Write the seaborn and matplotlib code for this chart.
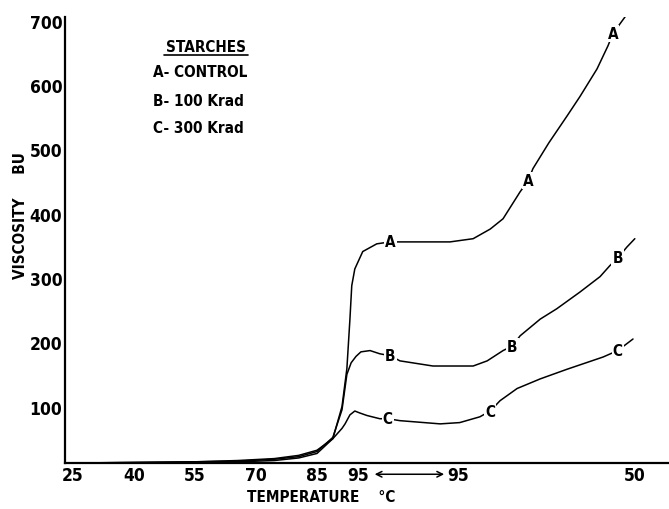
import numpy as np
import pandas as pd
import matplotlib
matplotlib.use("Agg")
import matplotlib.pyplot as plt
import seaborn as sns

# x is elapsed time (min) of the amylograph run; tick labels give the temperature
tick_pos = [0, 10, 20, 30, 40, 46.7, 63.1, 92.1]
tick_labels = ["25", "40", "55", "70", "85", "95", "95", "50"]
y_ticks = [100, 200, 300, 400, 500, 600, 700]

t_a = [-1.3, 10, 20, 27, 33, 37, 40, 42.6, 44.1, 44.9, 45.4, 45.7, 46.2, 47.5, 49.8,
       52, 53.6, 61.8, 65.6, 68.4, 70.5, 73.3, 74.6, 75.4, 78, 81, 83.1, 85.9, 87.7, 88.5, 90.5]
bu_a = [12, 12, 13, 14, 16, 20, 27, 50, 100, 159, 236, 288, 314, 341, 353,
        356, 356, 356, 361, 376, 392, 434, 451, 470, 510, 552, 582, 625, 661, 680, 706]

t_b = [-1.3, 10, 20, 27, 33, 37, 40, 42.6, 44.1, 44.9, 45.6, 46.4, 47.2, 48.7, 50.3,
       52, 53.6, 59, 65.6, 67.9, 70.5, 72, 73.3, 76.6, 79.3, 83.1, 86.4, 88, 89.3, 90.8, 92.1]
bu_b = [12, 13, 14, 15, 18, 22, 30, 52, 95, 150, 168, 178, 185, 187, 182,
        179, 171, 163, 163, 171, 187, 194, 210, 236, 252, 278, 302, 319, 331, 348, 361]

t_c = [-1.3, 10, 20, 27, 33, 37, 40, 42.6, 44.1, 44.6, 45.4, 46.2, 47, 48.2, 50.3,
       51.6, 53.6, 60.2, 63.4, 66.7, 68.4, 70, 72.8, 76.6, 81, 86.9, 89.3, 91.8]
bu_c = [12, 13, 14, 16, 19, 24, 32, 50, 66, 73, 87, 93, 90, 86, 81,
        81, 78, 73, 75, 84, 93, 109, 128, 143, 158, 177, 187, 205]

# curve letters sitting on the lines
lab_a = [(52.0, 356), (74.6, 451), (88.5, 680)]
lab_b = [(52.0, 179), (72.0, 194), (89.3, 331)]
lab_c = [(51.6, 81), (68.4, 93), (89.3, 187)]

df = pd.concat([
    pd.DataFrame({"t": t_a, "bu": bu_a, "starch": "A"}),
    pd.DataFrame({"t": t_b, "bu": bu_b, "starch": "B"}),
    pd.DataFrame({"t": t_c, "bu": bu_c, "starch": "C"}),
])

sns.set_style("white")
plt.rcParams["font.family"] = ["DejaVu Sans"]
plt.rcParams["font.stretch"] = "condensed"
plt.rcParams["text.color"] = "black"
plt.rcParams["xtick.color"] = "black"
plt.rcParams["ytick.color"] = "black"

fig = plt.figure(figsize=(6.69, 5.10), dpi=100)
ax = fig.add_axes([0.0972, 0.090, 0.9028, 0.875])

sns.lineplot(data=df, x="t", y="bu", hue="starch", estimator=None, sort=False,
             palette=["black"] * 3, linewidth=1.1, legend=False, ax=ax)

for letter, pts in [("A", lab_a), ("B", lab_b), ("C", lab_c)]:
    for x, y in pts:
        ax.text(x, y, letter, ha="center", va="center", fontsize=11, fontweight="bold",
                fontstretch="condensed",
                bbox=dict(facecolor="white", edgecolor="none", pad=0.8), zorder=5)

ax.set_xlim(-1.3, 97.7)
ax.set_ylim(12, 706)
ax.set_xticks(tick_pos)
ax.set_xticklabels(tick_labels)
ax.set_yticks(y_ticks)
ax.set_yticklabels([str(v) for v in y_ticks])
ax.tick_params(length=0, labelsize=12.5, pad=2)
for lbl in ax.get_xticklabels() + ax.get_yticklabels():
    lbl.set_fontweight("bold")
    lbl.set_fontstretch("condensed")
ax.set_xlabel("")
ax.set_ylabel("")
sns.despine(ax=ax)
for s in ["left", "bottom"]:
    ax.spines[s].set_linewidth(1.6)
    ax.spines[s].set_color("black")

# the hold period arrow between the two 95 labels
ax.annotate("", xy=(49.0, -0.025), xytext=(61.3, -0.025),
            xycoords=("data", "axes fraction"), textcoords=("data", "axes fraction"),
            arrowprops=dict(arrowstyle="<->", color="black", lw=1.1), annotation_clip=False)

# legend block
kw = dict(fontsize=11, fontweight="bold", fontstretch="condensed")
fig.text(0.308, 0.906, "STARCHES", ha="center", va="center", **kw)
fig.add_artist(plt.Line2D([0.245, 0.370], [0.890, 0.890], color="black", lw=1.2))
fig.text(0.229, 0.857, "A- CONTROL", ha="left", va="center", **kw)
fig.text(0.229, 0.800, "B- 100 Krad", ha="left", va="center", **kw)
fig.text(0.229, 0.749, "C- 300 Krad", ha="left", va="center", **kw)

fig.text(0.030, 0.578, "VISCOSITY     BU", rotation=90, ha="center", va="center", **kw)
fig.text(0.480, 0.024, "TEMPERATURE    °C", ha="center", va="center", **kw)

fig.savefig("out.png", dpi=100)
